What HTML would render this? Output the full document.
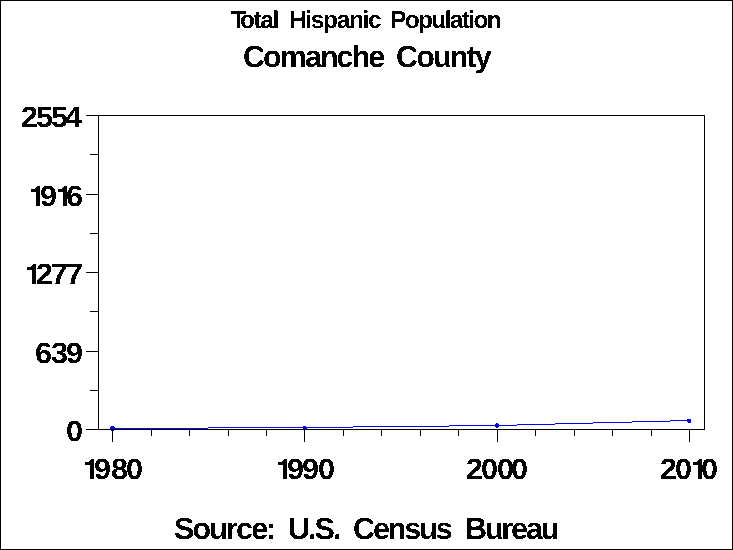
<!DOCTYPE html>
<html>
<head>
<meta charset="utf-8">
<title>Total Hispanic Population - Comanche County</title>
<style>
html,body{margin:0;padding:0;background:#fff;}
body{width:733px;height:550px;position:relative;overflow:hidden;font-family:"Liberation Sans",sans-serif;color:#000;}
#frame{position:absolute;left:0;top:0;width:733px;height:550px;box-sizing:border-box;border:1px solid #000;}
svg.ln{position:absolute;left:0;top:0;}
#txt{position:absolute;left:0;top:0;width:733px;height:550px;filter:url(#th);}
#txt span{position:absolute;white-space:nowrap;line-height:1;font-weight:bold;text-rendering:geometricPrecision;}
.a{font-size:24.5px;}
.b{font-size:30.5px;}
.c{font-size:30.5px;}
.d{font-size:29.5px;transform:scaleX(1.04);transform-origin:0 0;}
</style>
</head>
<body>
<svg width="0" height="0" style="position:absolute"><defs><filter id="th" x="0" y="0" width="100%" height="100%" color-interpolation-filters="sRGB"><feComponentTransfer><feFuncA type="discrete" tableValues="0 1"/></feComponentTransfer></filter></defs></svg>
<div id="frame"></div>
<svg class="ln" width="733" height="550" viewBox="0 0 733 550" shape-rendering="crispEdges">
<g fill="#0000ff">
<path d="M112 428h96v1h-96zM208 427h145v1h-145zM353 426h96v1h-96zM449 425h68v1h-68zM517 424h38v1h-38zM555 423h38v1h-38zM593 422h39v1h-39zM632 421h38v1h-38zM670 420h20v1h-20z"/>
<path d="M111 426h3v1h1v3h-1v1h-3v-1h-1v-3h1z"/>
<path d="M303 426h3v1h1v3h-4z"/>
<path d="M496 423h2v1h1v3h-1v1h-2v-1h-1v-3h1z"/>
<path d="M687 419h4v4h-3v-1h-1z"/>
</g>
<g fill="#000">
<path d="M98 115h607v1h-607zM98 429h607v1h-607zM98 115h1v315h-1zM704 115h1v315h-1z"/>
<path d="M86 115h12v1h-12zM86 194h12v1h-12zM86 272h12v1h-12zM86 351h12v1h-12zM86 429h12v1h-12z"/>
<path d="M90 154h8v1h-8zM90 233h8v1h-8zM90 311h8v1h-8zM90 390h8v1h-8z"/>
<path d="M112 430h1v12h-1zM304 430h1v12h-1zM497 430h1v12h-1zM689 430h1v12h-1z"/>
<path d="M151 430h1v6h-1zM189 430h1v6h-1zM228 430h1v6h-1zM266 430h1v6h-1zM343 430h1v6h-1zM381 430h1v6h-1zM420 430h1v6h-1zM458 430h1v6h-1zM535 430h1v6h-1zM574 430h1v6h-1zM612 430h1v6h-1zM651 430h1v6h-1z"/>
</g>
<g fill="#000"><path transform="translate(31 186)" d="M6 0h3v20h-4v-14h-5v-3h4v-1h1v-1h1z"><title>1</title></path><path transform="translate(58 186)" d="M6 0h3v20h-4v-14h-5v-3h4v-1h1v-1h1z"><title>1</title></path><path transform="translate(27 264)" d="M6 0h3v20h-4v-14h-5v-3h4v-1h1v-1h1z"><title>1</title></path><path transform="translate(85 459)" d="M6 0h3v20h-4v-14h-5v-3h4v-1h1v-1h1z"><title>1</title></path><path transform="translate(278 459)" d="M6 0h3v20h-4v-14h-5v-3h4v-1h1v-1h1z"><title>1</title></path><path transform="translate(693 459)" d="M6 0h3v20h-4v-14h-5v-3h4v-1h1v-1h1z"><title>1</title></path></g>
</svg>
<div id="txt">
<span class="a" style="letter-spacing:-1.5px;left:231px;top:9px">T</span>
<span class="a" style="letter-spacing:-1.45px;left:240px;top:9px">otal</span>
<span class="a" style="letter-spacing:-1.35px;left:289px;top:9px">Hispanic</span>
<span class="a" style="letter-spacing:-1.65px;left:390px;top:9px">Population</span>
<span class="b" style="letter-spacing:-1.95px;left:243px;top:42px">Comanche</span>
<span class="b" style="letter-spacing:-1.85px;left:396px;top:42px">County</span>
<span class="d" style="left:21px;top:103px">2</span>
<span class="d" style="left:36px;top:103px">5</span>
<span class="d" style="left:51px;top:103px">5</span>
<span class="d" style="left:65px;top:103px">4</span>
<span class="d" style="left:40px;top:182px">9</span>
<span class="d" style="left:66px;top:182px">6</span>
<span class="d" style="left:36px;top:260px">2</span>
<span class="d" style="left:51px;top:260px">7</span>
<span class="d" style="left:66px;top:260px">7</span>
<span class="d" style="left:35px;top:339px">6</span>
<span class="d" style="left:51px;top:339px">3</span>
<span class="d" style="left:66px;top:339px">9</span>
<span class="d" style="left:66px;top:417px">0</span>
<span class="d" style="left:94px;top:455px">9</span>
<span class="d" style="left:111px;top:455px">8</span>
<span class="d" style="left:126px;top:455px">0</span>
<span class="d" style="left:287px;top:455px">9</span>
<span class="d" style="left:302px;top:455px">9</span>
<span class="d" style="left:318px;top:455px">0</span>
<span class="d" style="left:466px;top:455px">2</span>
<span class="d" style="left:481px;top:455px">0</span>
<span class="d" style="left:497px;top:455px">0</span>
<span class="d" style="left:511px;top:455px">0</span>
<span class="d" style="left:660px;top:455px">2</span>
<span class="d" style="left:675px;top:455px">0</span>
<span class="d" style="left:701px;top:455px">0</span>
<span class="c" style="letter-spacing:-1.85px;left:174px;top:514px">Source:</span>
<span class="c" style="letter-spacing:-1.95px;left:288px;top:514px">U.S.</span>
<span class="c" style="letter-spacing:-2.1px;left:353px;top:514px">Census</span>
<span class="c" style="letter-spacing:-2.15px;left:465px;top:514px">Bureau</span>
</div>
</body>
</html>
